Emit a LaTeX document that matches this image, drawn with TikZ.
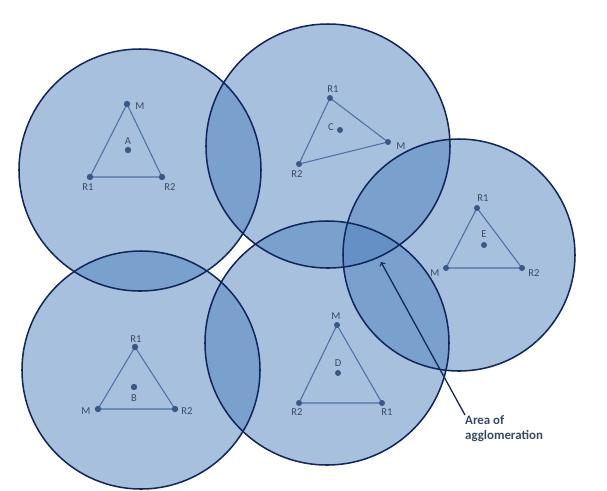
\documentclass[tikz,border=0pt]{standalone}
\usepackage{fontspec}
\setmainfont{Carlito}
\definecolor{zonefill}{RGB}{79,129,189}
\definecolor{zoneline}{RGB}{18,38,92}
\definecolor{triline}{RGB}{78,112,164}
\definecolor{sitedot}{RGB}{58,88,134}
\definecolor{labeltext}{RGB}{58,72,102}
\tikzset{
  zone/.style={fill=zonefill,fill opacity=0.5},
  zoneedge/.style={draw=zoneline,line width=1.3pt},
  tri/.style={draw=triline,line width=0.9pt},
  site/.style={fill=sitedot},
  lbl/.style={text=labeltext,font=\fontsize{9}{10}\selectfont,inner sep=0pt}
}
\begin{document}
\begin{tikzpicture}[x=0.03cm,y=-0.03cm]
\useasboundingbox (0,0) rectangle (607,490);

% Coverage zones
\fill[zone] (140,170) circle (121); % Zone A
\fill[zone] (328,146) circle (122); % Zone C
\fill[zone] (459,255) circle (116); % Zone E
\fill[zone] (141,370) circle (119); % Zone B
\fill[zone] (327,343) circle (122); % Zone D

\draw[zoneedge] (140,170) circle (121);
\draw[zoneedge] (328,146) circle (122);
\draw[zoneedge] (459,255) circle (116);
\draw[zoneedge] (141,370) circle (119);
\draw[zoneedge] (327,343) circle (122);

% Zone A
\coordinate (AM) at (127,104);
\coordinate (AR1) at (90,177);
\coordinate (AR2) at (162,177);
\coordinate (Ac) at (128,150);
\draw[tri] (AM) -- (AR1) -- (AR2) -- cycle;
\foreach \p in {AM,AR1,AR2,Ac} \fill[site] (\p) circle (3.2);
\node[lbl] (lAM) at (140,106) {M};
\node[lbl] (lAR1) at (88,187) {R1};
\node[lbl] (lAR2) at (170,187) {R2};
\node[lbl] (lA) at (128,141) {A};

% Zone C
\coordinate (CR1) at (330,98);
\coordinate (CM) at (388,142);
\coordinate (CR2) at (299,164);
\coordinate (Cc) at (340,130);
\draw[tri] (CR1) -- (CM) -- (CR2) -- cycle;
\foreach \p in {CR1,CM,CR2,Cc} \fill[site] (\p) circle (3);
\node[lbl] (lCR1) at (333,89) {R1};
\node[lbl] (lCM) at (401,146) {M};
\node[lbl] (lCR2) at (297,174) {R2};
\node[lbl] (lC) at (331,127) {C};

% Zone E
\coordinate (ER1) at (477,208);
\coordinate (EM) at (446,268);
\coordinate (ER2) at (522,268);
\coordinate (Ec) at (484,245);
\draw[tri] (ER1) -- (EM) -- (ER2) -- cycle;
\foreach \p in {ER1,EM,ER2,Ec} \fill[site] (\p) circle (3);
\node[lbl] (lER1) at (483,198) {R1};
\node[lbl] (lEM) at (435,273) {M};
\node[lbl] (lER2) at (534,273) {R2};
\node[lbl] (lE) at (484,234) {E};

% Zone B
\coordinate (BR1) at (135,347);
\coordinate (BM) at (98,409);
\coordinate (BR2) at (175,409);
\coordinate (Bc) at (134,387);
\draw[tri] (BR1) -- (BM) -- (BR2) -- cycle;
\foreach \p in {BR1,BM,BR2,Bc} \fill[site] (\p) circle (3.2);
\node[lbl] (lBR1) at (136,339) {R1};
\node[lbl] (lBM) at (86,411) {M};
\node[lbl] (lBR2) at (187,411) {R2};
\node[lbl] (lB) at (134,398) {B};

% Zone D
\coordinate (DM) at (337,325);
\coordinate (DR2) at (299,403);
\coordinate (DR1) at (382,403);
\coordinate (Dc) at (338,373);
\draw[tri] (DM) -- (DR2) -- (DR1) -- cycle;
\foreach \p in {DM,DR2,DR1,Dc} \fill[site] (\p) circle (3);
\node[lbl] (lDM) at (336,316) {M};
\node[lbl] (lDR2) at (297,412) {R2};
\node[lbl] (lDR1) at (387,412) {R1};
\node[lbl] (lD) at (338,363) {D};

% Area of agglomeration
\node[text=labeltext,font=\fontsize{11}{13}\selectfont\bfseries,align=left,anchor=north west,inner sep=0pt] (area) at (465,415) {Area of\\agglomeration};
\coordinate (agg) at (381,262);
\draw[zoneline,line width=1.1pt,->] (area.north west) -- (agg);

\end{tikzpicture}
\end{document}
